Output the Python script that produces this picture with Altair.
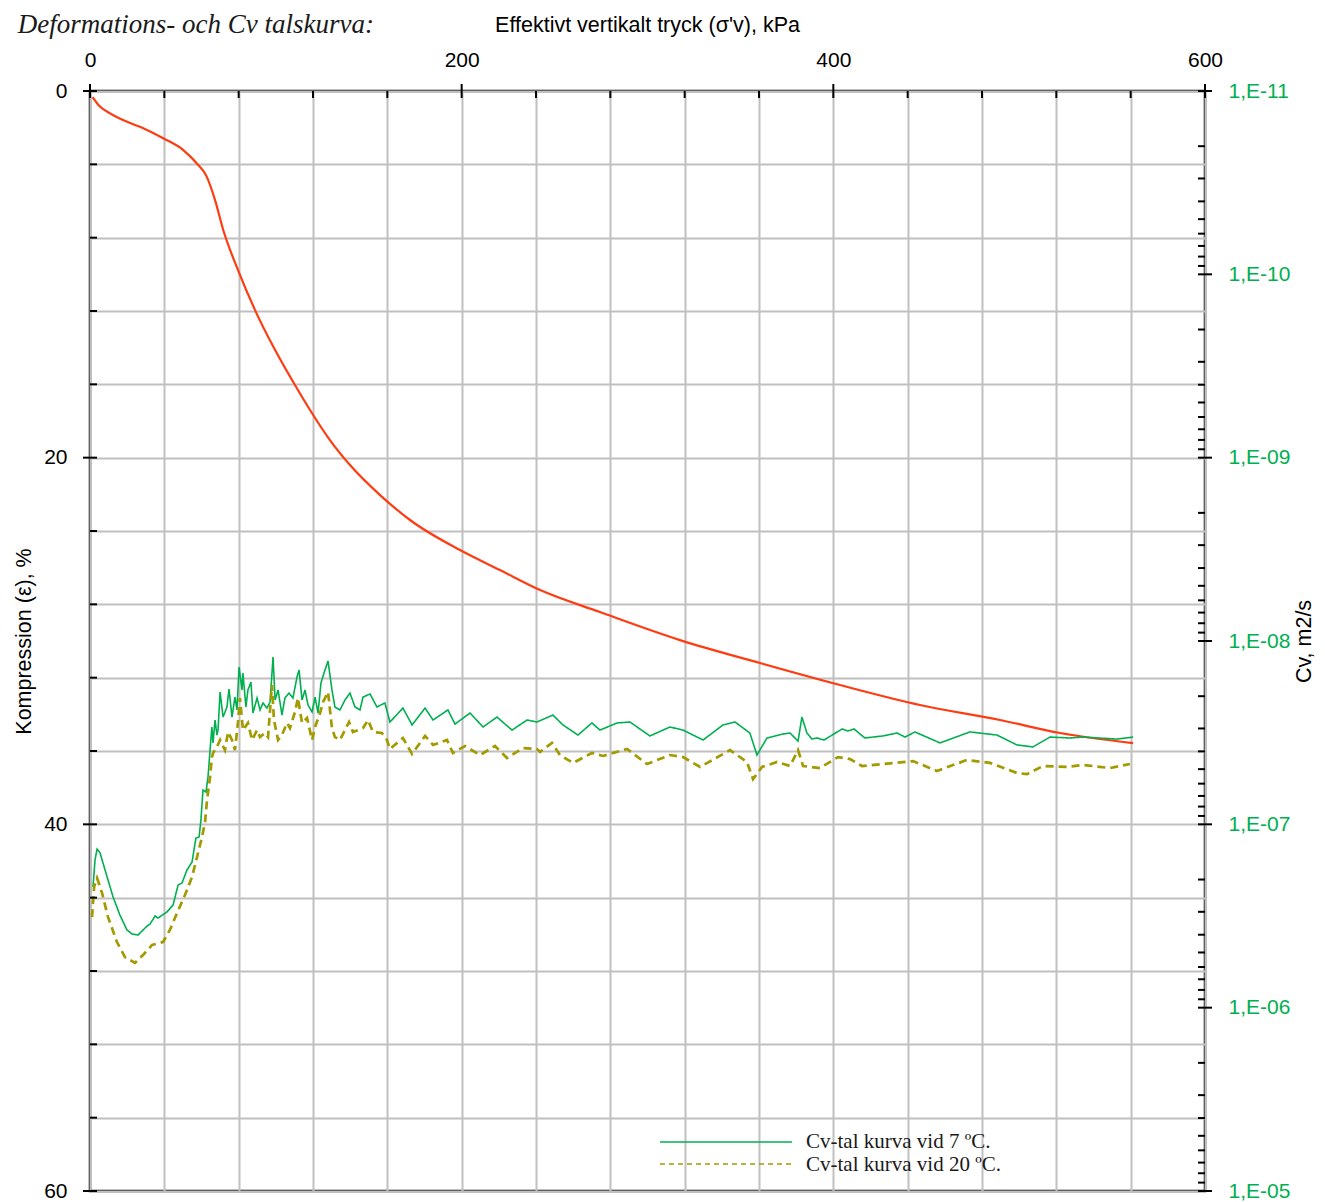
import altair as alt
import pandas as pd

# ---------------- data ----------------
title_text = "Deformations- och Cv talskurva:"
x_title = "Effektivt vertikalt tryck (σ'v), kPa"
y_left_title = "Kompression (ε), %"
y_right_title = "Cv, m2/s"
series_names = ["Cv-tal kurva vid 7 ºC.", "Cv-tal kurva vid 20 ºC."]

# compression curve (effective stress kPa, compression %)
red_stress = [1.4, 4.5, 10.8, 19.7, 28.7, 39.4, 50.2, 57.4, 62.8, 67.3, 71.7, 79.6, 88.8,
              99.6, 110.3, 118.4, 129.1, 139.9, 156.1, 172.2, 199.1, 220.6, 242.2, 274.4,
              317.5, 360.5, 403.6, 446.6, 489.7, 522.0, 561.3]
red_komp = [0.34, 0.76, 1.22, 1.67, 2.03, 2.58, 3.22, 3.94, 4.67, 5.95, 7.58, 9.76, 11.95,
            14.13, 16.04, 17.40, 19.04, 20.40, 22.04, 23.40, 25.04, 26.13, 27.22, 28.42,
            29.95, 31.20, 32.40, 33.49, 34.31, 35.02, 35.57]

# Cv at 7 C : (stress kPa, log10 Cv [m2/s])
cv7_points = [
    (1.6, -6.658), (2.7, -6.805), (3.8, -6.865), (5.4, -6.844), (8.1, -6.751), (12.4, -6.604),
    (16.1, -6.505), (19.9, -6.424), (22.6, -6.402), (25.8, -6.396), (30.7, -6.445), (32.3, -6.456),
    (35.0, -6.500), (36.6, -6.489), (41.4, -6.522), (44.7, -6.560), (47.4, -6.669), (49.5, -6.680),
    (52.2, -6.751), (54.9, -6.794), (57.0, -6.925), (58.7, -6.931), (59.7, -7.024), (60.8, -7.187),
    (62.4, -7.176), (63.5, -7.258), (64.6, -7.405), (65.6, -7.531), (66.2, -7.444), (67.3, -7.569),
    (68.3, -7.487), (68.9, -7.514), (70.0, -7.722), (71.6, -7.585), (73.7, -7.640), (74.8, -7.738),
    (76.4, -7.585), (78.0, -7.694), (79.1, -7.624), (80.2, -7.858), (81.8, -7.733), (82.3, -7.825),
    (83.9, -7.640), (85.0, -7.733), (86.6, -7.776), (87.7, -7.607), (89.9, -7.689), (91.5, -7.624),
    (93.1, -7.662), (95.2, -7.634), (96.9, -7.667), (98.5, -7.913), (99.6, -7.678), (101.2, -7.733),
    (103.3, -7.596), (104.9, -7.689), (107.1, -7.716), (109.2, -7.689), (111.4, -7.804), (112.5, -7.842),
    (114.1, -7.678), (115.7, -7.733), (117.3, -7.651), (119.5, -7.613), (121.1, -7.694), (122.7, -7.607),
    (124.3, -7.771), (125.9, -7.825), (128.1, -7.891), (130.2, -7.733), (131.8, -7.640), (134.5, -7.624),
    (137.2, -7.678), (139.9, -7.716), (142.6, -7.640), (145.3, -7.624), (146.9, -7.694), (150.7, -7.711),
    (154.4, -7.640), (158.7, -7.662), (161.4, -7.558), (168.4, -7.634), (173.3, -7.542), (180.3, -7.634),
    (184.6, -7.569), (192.6, -7.624), (196.4, -7.547), (204.5, -7.607), (211.5, -7.531), (219.0, -7.585),
    (227.1, -7.514), (235.2, -7.569), (240.5, -7.558), (249.1, -7.596), (254.5, -7.542), (262.6, -7.487),
    (270.1, -7.553), (274.4, -7.514), (283.6, -7.553), (290.6, -7.558), (301.3, -7.482), (312.1, -7.531),
    (319.1, -7.514), (329.9, -7.460), (340.6, -7.542), (347.1, -7.558), (355.1, -7.498), (358.9, -7.378),
    (364.3, -7.471), (372.9, -7.493), (376.7, -7.498), (381.0, -7.454), (383.1, -7.585), (385.8, -7.498),
    (388.5, -7.465), (391.2, -7.471), (395.0, -7.460), (404.7, -7.520), (407.9, -7.509), (411.1, -7.520),
    (417.0, -7.471), (426.7, -7.482), (434.3, -7.498), (438.6, -7.476), (443.9, -7.504), (457.4, -7.444),
    (473.5, -7.504), (488.1, -7.487), (498.8, -7.433), (507.4, -7.422), (516.6, -7.476), (527.3, -7.471),
    (534.3, -7.476), (552.6, -7.465), (561.3, -7.476),
]

# Cv at 20 C : (stress kPa, log10 Cv [m2/s])
cv20_points = [
    (1.1, -6.494), (2.2, -6.658), (3.8, -6.707), (6.5, -6.625), (9.7, -6.494), (14.5, -6.358),
    (18.8, -6.276), (24.2, -6.244), (28.5, -6.287), (33.4, -6.342), (39.3, -6.358), (43.0, -6.424),
    (46.8, -6.516), (51.1, -6.614), (54.9, -6.713), (57.6, -6.822), (60.3, -6.931), (61.9, -7.013),
    (63.0, -7.133), (64.6, -7.258), (65.6, -7.367), (66.2, -7.389), (68.3, -7.422), (70.0, -7.460),
    (72.6, -7.405), (74.3, -7.504), (76.4, -7.460), (78.0, -7.405), (79.6, -7.553), (80.7, -7.689),
    (82.3, -7.514), (85.0, -7.553), (87.2, -7.460), (89.9, -7.514), (91.5, -7.476), (94.2, -7.498),
    (95.8, -7.476), (97.9, -7.760), (99.0, -7.569), (101.2, -7.460), (103.3, -7.487), (106.0, -7.553),
    (107.6, -7.525), (110.3, -7.613), (111.9, -7.689), (114.1, -7.553), (116.8, -7.580), (119.5, -7.460),
    (121.1, -7.531), (123.8, -7.607), (125.4, -7.667), (128.1, -7.722), (130.2, -7.525), (131.8, -7.476),
    (134.5, -7.460), (137.2, -7.514), (139.4, -7.558), (141.5, -7.504), (144.2, -7.514), (146.9, -7.525),
    (149.6, -7.569), (152.3, -7.504), (157.1, -7.498), (159.8, -7.460), (161.4, -7.411), (168.4, -7.471),
    (173.3, -7.384), (180.3, -7.482), (184.6, -7.433), (192.1, -7.460), (195.3, -7.389), (201.8, -7.427),
    (209.9, -7.378), (217.9, -7.427), (224.4, -7.362), (233.0, -7.416), (240.5, -7.411), (242.2, -7.395),
    (248.6, -7.444), (252.9, -7.378), (259.9, -7.335), (270.1, -7.389), (276.1, -7.373), (289.0, -7.411),
    (299.7, -7.329), (312.1, -7.378), (319.1, -7.367), (328.3, -7.313), (344.4, -7.405), (353.5, -7.340),
    (356.8, -7.247), (361.6, -7.313), (369.7, -7.340), (376.7, -7.318), (381.0, -7.405), (383.7, -7.318),
    (392.8, -7.307), (402.5, -7.367), (409.0, -7.356), (415.4, -7.318), (426.7, -7.329), (442.9, -7.345),
    (455.8, -7.291), (471.9, -7.351), (484.3, -7.335), (498.8, -7.280), (504.2, -7.274), (512.8, -7.318),
    (525.7, -7.313), (534.3, -7.324), (548.9, -7.307), (559.6, -7.329),
]

# axis ticks
x_ticks = [0, 40, 80, 120, 160, 200, 240, 280, 320, 360, 400, 440, 480, 520, 560, 600]
x_major = [0, 200, 400, 600]
y_ticks = [0, 4, 8, 12, 16, 20, 24, 28, 32, 36, 40, 44, 48, 52, 56, 60]
y_major = [0, 20, 40, 60]
cv_decades = [1e-11, 1e-10, 1e-9, 1e-8, 1e-7, 1e-6, 1e-5]
cv_minor = [m * d for d in cv_decades[:-1] for m in range(2, 10)]

# ---------------- styles ----------------
W, H = 1115, 1100
RED = "#ff3b12"
GREEN = "#00b050"
OLIVE = "#a39a00"
GRID = "#c0c0c0"
AX_FONT = "Liberation Sans"
SERIF = "Liberation Serif"
LBL = 21
TTL = 21.5

red_df = pd.DataFrame({"stress": red_stress, "komp": red_komp})
cv_df = pd.concat([
    pd.DataFrame({"stress": [p[0] for p in cv7_points], "lg": [p[1] for p in cv7_points],
                  "series": series_names[0]}),
    pd.DataFrame({"stress": [p[0] for p in cv20_points], "lg": [p[1] for p in cv20_points],
                  "series": series_names[1]}),
])
cv_df["cv"] = 10 ** cv_df["lg"]

x_axis = alt.Axis(
    orient="top", values=x_ticks,
    labelExpr="datum.value % 200 === 0 ? datum.label : ''",
    ticks=False, domain=False, grid=True, gridColor=GRID, gridWidth=2,
    labelFont=AX_FONT, labelFontSize=LBL, labelColor="black", labelPadding=25,
    labelBaseline="alphabetic", labelFlush=False, labelOverlap=False,
    title=x_title, titleFont=AX_FONT, titleFontSize=TTL, titleFontWeight="normal",
    titleColor="black", titleBaseline="alphabetic", titleY=-60, titleX=557,
)
y_axis = alt.Axis(
    orient="left", values=y_ticks,
    labelExpr="datum.value % 20 === 0 ? datum.label : ''",
    ticks=False, domain=False, grid=True, gridColor=GRID, gridWidth=2,
    labelFont=AX_FONT, labelFontSize=LBL, labelColor="black", labelPadding=23,
    labelFlush=False, labelOverlap=False,
    title=y_left_title, titleFont=AX_FONT, titleFontSize=TTL, titleFontWeight="normal",
    titleColor="black", titleAngle=270, titleBaseline="alphabetic", titleAlign="center",
    titleX=-60, titleY=550,
)
cv_axis = alt.Axis(
    orient="right", values=cv_decades,
    labelExpr="'1,E-' + (abs(round(log(datum.value) / LN10)) < 10 ? '0' : '') + abs(round(log(datum.value) / LN10))",
    ticks=False, domain=False, grid=False,
    labelFont=AX_FONT, labelFontSize=LBL, labelColor=GREEN, labelPadding=23,
    labelFlush=False, labelOverlap=False,
    title=y_right_title, titleFont=AX_FONT, titleFontSize=TTL, titleFontWeight="normal",
    titleColor="black", titleAngle=270, titleBaseline="alphabetic", titleAlign="center",
    titleX=105, titleY=550,
)


def x_scale():
    return alt.Scale(domain=[0, 600], nice=False)


def y_scale():
    return alt.Scale(domain=[0, 60], reverse=True, nice=False)


def cv_scale():
    return alt.Scale(type="log", domain=[1e-11, 1e-5], reverse=True, nice=False)


red_line = alt.Chart(red_df).mark_line(color=RED, strokeWidth=2.2, interpolate="monotone").encode(
    x=alt.X("stress:Q", scale=x_scale(), axis=x_axis),
    y=alt.Y("komp:Q", scale=y_scale(), axis=y_axis),
)

cv_lines = alt.Chart(cv_df).mark_line().encode(
    x=alt.X("stress:Q", scale=x_scale(), axis=x_axis),
    y=alt.Y("cv:Q", scale=cv_scale(), axis=cv_axis),
    color=alt.Color("series:N", scale=alt.Scale(domain=series_names, range=[GREEN, OLIVE]), legend=None),
    strokeDash=alt.StrokeDash("series:N", scale=alt.Scale(domain=series_names, range=[[1, 0], [8, 5]]), legend=None),
    strokeWidth=alt.StrokeWidth("series:N", scale=alt.Scale(domain=series_names, range=[1.6, 2.7]), legend=None),
)


def xtick_rules(vals, y1, y2):
    return alt.Chart(pd.DataFrame({"stress": vals})).mark_rule(color="black", strokeWidth=2).encode(
        x=alt.X("stress:Q", scale=x_scale(), axis=x_axis), y=alt.value(y1), y2=alt.value(y2))


def ytick_rules(vals, scale, x1, x2):
    return alt.Chart(pd.DataFrame({"v": vals})).mark_rule(color="black", strokeWidth=2).encode(
        y=alt.Y("v:Q", scale=scale, axis=None), x=alt.value(x1), x2=alt.value(x2))


title_layer = alt.Chart(pd.DataFrame({"t": [title_text]})).mark_text(
    font=SERIF, fontStyle="italic", fontSize=27, align="right", baseline="alphabetic", color="#1a1a1a"
).encode(x=alt.value(284), y=alt.value(-58), text="t:N")

one = pd.DataFrame({"t": [0]})
leg_line1 = alt.Chart(one).mark_rule(color=GREEN, strokeWidth=1.5).encode(
    x=alt.value(570), x2=alt.value(702), y=alt.value(1051))
leg_line2 = alt.Chart(one).mark_rule(color=OLIVE, strokeWidth=1.5, strokeDash=[5, 4]).encode(
    x=alt.value(570), x2=alt.value(702), y=alt.value(1073))
leg_text1 = alt.Chart(pd.DataFrame({"t": [series_names[0]]})).mark_text(
    font=SERIF, fontSize=21, align="left", baseline="middle", color="#1a1a1a"
).encode(x=alt.value(716), y=alt.value(1051), text="t:N")
leg_text2 = alt.Chart(pd.DataFrame({"t": [series_names[1]]})).mark_text(
    font=SERIF, fontSize=21, align="left", baseline="middle", color="#1a1a1a"
).encode(x=alt.value(716), y=alt.value(1074), text="t:N")

chart = alt.layer(
    red_line,
    cv_lines,
    xtick_rules(x_ticks, 0, 7),
    xtick_rules(x_major, -7, 0),
    ytick_rules(y_ticks, y_scale(), 0, 7),
    ytick_rules(y_major, y_scale(), -7, 0),
    ytick_rules(cv_decades + cv_minor, cv_scale(), W - 7, W),
    ytick_rules(cv_decades, cv_scale(), W, W + 7),
    title_layer, leg_line1, leg_line2, leg_text1, leg_text2,
).resolve_scale(y="independent").properties(
    width=W, height=H,
    background="white",
    autosize=alt.AutoSizeParams(type="none"),
    padding={"left": 82, "top": 83, "right": 112, "bottom": 12},
).configure_view(stroke="black", strokeWidth=2.5)

chart.save("out.html", embed_options={"renderer": "svg", "actions": False})
